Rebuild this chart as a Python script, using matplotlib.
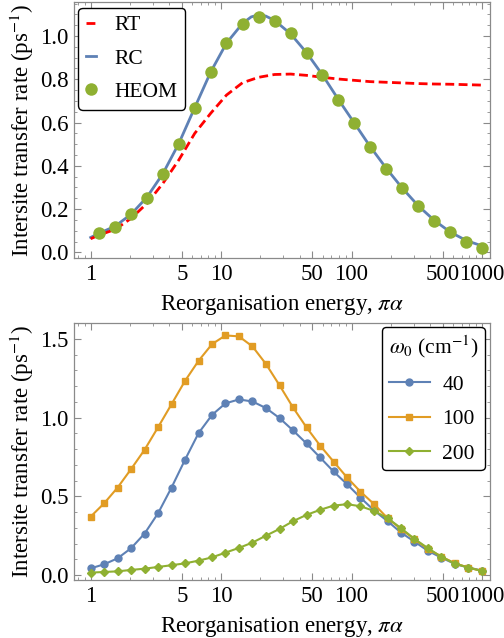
import matplotlib
matplotlib.use("Agg")
import matplotlib.pyplot as plt
from matplotlib.ticker import FixedLocator, NullFormatter, LogLocator, AutoMinorLocator
from matplotlib.lines import Line2D

plt.rcParams['font.family'] = ['Liberation Serif', 'DejaVu Serif']
plt.rcParams['mathtext.fontset'] = 'stix'

# --- panel superior: RT / RC / HEOM ---
rc_x = [1, 1.16, 1.54, 2.04, 2.70, 3.58, 4.74, 6.28, 8.33, 11.0, 14.6, 17.0, 19.4, 22.0,
        25.7, 34.1, 45.2, 59.9, 79.4, 105, 139, 185, 245, 325, 431, 571, 757, 1000]
rc_y = [0.069, 0.088, 0.121, 0.176, 0.255, 0.364, 0.503, 0.669, 0.834, 0.967, 1.058, 1.088,
        1.098, 1.092, 1.072, 1.010, 0.923, 0.820, 0.706, 0.598, 0.489, 0.388, 0.297, 0.215,
        0.148, 0.094, 0.055, 0.030]

rt_x = [1, 1.16, 1.54, 2.04, 2.70, 3.58, 4.74, 6.28, 8.33, 11.0, 14.6, 19.4, 25.7, 34.1,
        45.2, 59.9, 79.4, 105, 139, 185, 245, 325, 431, 571, 757, 1000]
rt_y = [0.063, 0.080, 0.106, 0.157, 0.226, 0.319, 0.427, 0.550, 0.643, 0.727, 0.784, 0.809,
        0.822, 0.824, 0.818, 0.809, 0.801, 0.795, 0.789, 0.786, 0.783, 0.780, 0.778, 0.777,
        0.775, 0.773]

heom_x = [1.16, 1.54, 2.04, 2.70, 3.58, 4.74, 6.28, 8.33, 11.0, 14.6, 19.4, 25.7, 34.1,
          45.2, 59.9, 79.4, 105, 139, 185, 245, 325, 431, 571, 757, 1000]
heom_y = [0.088, 0.119, 0.177, 0.253, 0.362, 0.501, 0.669, 0.834, 0.966, 1.057, 1.089, 1.071,
          1.012, 0.923, 0.820, 0.706, 0.598, 0.488, 0.387, 0.296, 0.214, 0.146, 0.092, 0.046,
          0.022]

# --- panel inferior: distintas omega_0 ---
w_x = [1, 1.27, 1.61, 2.04, 2.59, 3.29, 4.17, 5.30, 6.72, 8.53, 10.8, 13.7, 17.4, 22.1, 28.1,
       35.6, 45.2, 57.4, 72.8, 92.4, 117, 149, 189, 240, 304, 386, 489, 621, 788, 1000]
w40 = [0.042, 0.068, 0.106, 0.170, 0.263, 0.393, 0.556, 0.734, 0.902, 1.018, 1.091, 1.116,
       1.103, 1.061, 0.997, 0.919, 0.836, 0.747, 0.658, 0.577, 0.492, 0.410, 0.342, 0.269,
       0.212, 0.153, 0.110, 0.070, 0.047, 0.028]
w100 = [0.371, 0.456, 0.556, 0.673, 0.796, 0.940, 1.086, 1.235, 1.362, 1.468, 1.523, 1.517,
        1.453, 1.341, 1.205, 1.065, 0.938, 0.823, 0.721, 0.620, 0.530, 0.450, 0.361, 0.291,
        0.227, 0.165, 0.117, 0.074, 0.047, 0.025]
w200 = [0.015, 0.019, 0.023, 0.032, 0.040, 0.051, 0.062, 0.074, 0.091, 0.112, 0.142, 0.172,
        0.206, 0.250, 0.293, 0.342, 0.382, 0.414, 0.441, 0.450, 0.437, 0.407, 0.361, 0.297,
        0.229, 0.170, 0.115, 0.072, 0.047, 0.025]

azul = '#5E81B5'
naranja = '#E19C24'
verde = '#8FB032'
gris = '#8a8a8a'

xticks = [1, 5, 10, 50, 100, 500, 1000]
xlabels = ['1', '5', '10', '50', '100', '500', '1000']
fs = 16.5
fs_leg = 15.5


def estilo_ejes(ax, ylim, yticks, ylabels):
    ax.set_xscale('log')
    ax.set_xlim(0.745, 1153)
    ax.set_ylim(*ylim)
    ax.xaxis.set_major_locator(FixedLocator(xticks))
    ax.set_xticklabels(xlabels)
    ax.xaxis.set_minor_locator(LogLocator(base=10, subs=range(2, 10)))
    ax.xaxis.set_minor_formatter(NullFormatter())
    ax.set_yticks(yticks)
    ax.set_yticklabels(ylabels)
    ax.yaxis.set_minor_locator(AutoMinorLocator())
    for s in ax.spines.values():
        s.set_color(gris)
        s.set_linewidth(0.9)
    ax.tick_params(which='both', direction='in', top=True, right=True, color=gris,
                   labelsize=fs, labelcolor='black')
    ax.tick_params(which='major', length=5, width=0.8, pad=4)
    ax.tick_params(which='minor', length=2.5, width=0.6)
    ax.set_xlabel(r'Reorganisation energy, $\pi\alpha$', fontsize=fs, labelpad=6)
    ax.set_ylabel(r'Intersite transfer rate (ps$^{-1}$)', fontsize=fs, labelpad=3)


fig = plt.figure(figsize=(5.04, 6.38), dpi=100)
ax1 = fig.add_axes([74 / 504, 1 - 258 / 638, 416 / 504, 256 / 638])
ax2 = fig.add_axes([74 / 504, 1 - 580 / 638, 416 / 504, 257 / 638])

# superior
ax1.plot(rc_x, rc_y, color=azul, lw=2.0, zorder=2)
ax1.plot(rt_x, rt_y, color='red', lw=2.0, ls=(0, (3.2, 1.6)), zorder=3)
ax1.plot(heom_x, heom_y, 'o', color=verde, ms=9, mec='none', zorder=4)
estilo_ejes(ax1, (-0.026, 1.157), [0.0, 0.2, 0.4, 0.6, 0.8, 1.0],
            ['0.0', '0.2', '0.4', '0.6', '0.8', '1.0'])

h1 = [Line2D([], [], color='red', lw=2.0, ls=(0, (3.2, 1.6))),
      Line2D([], [], color=azul, lw=2.0),
      Line2D([], [], ls='none', marker='o', color=verde, ms=9, mec='none')]
leg1 = ax1.legend(h1, ['RT', 'RC', 'HEOM'], loc='upper left', fontsize=fs_leg,
                  bbox_to_anchor=(0.0, 0.995), handlelength=0.45, handletextpad=0.9,
                  labelspacing=0.62, borderpad=0.35, borderaxespad=0.2, fancybox=True,
                  framealpha=1)
leg1.get_frame().set_edgecolor('black')
leg1.get_frame().set_linewidth(1.0)

# inferior
ax2.plot(w_x, w40, '-o', color=azul, lw=1.5, ms=5, label='40')
ax2.plot(w_x, w100, '-s', color=naranja, lw=1.5, ms=3.8, label='100')
ax2.plot(w_x, w200, '-D', color=verde, lw=1.5, ms=3.8, label='200')
estilo_ejes(ax2, (-0.032, 1.602), [0.0, 0.5, 1.0, 1.5], ['0.0', '0.5', '1.0', '1.5'])

leg2 = ax2.legend(loc='upper right', fontsize=fs_leg, title=r'$\omega_0$ (cm$^{-1}$)',
                  title_fontsize=fs_leg, bbox_to_anchor=(0.987, 0.985), handlelength=1.9,
                  handletextpad=0.6, labelspacing=0.68, borderpad=0.3, borderaxespad=0.0,
                  fancybox=True, framealpha=1, alignment='left')
leg2.get_frame().set_edgecolor('black')
leg2.get_frame().set_linewidth(1.0)

fig.savefig('out.png', dpi=100)
